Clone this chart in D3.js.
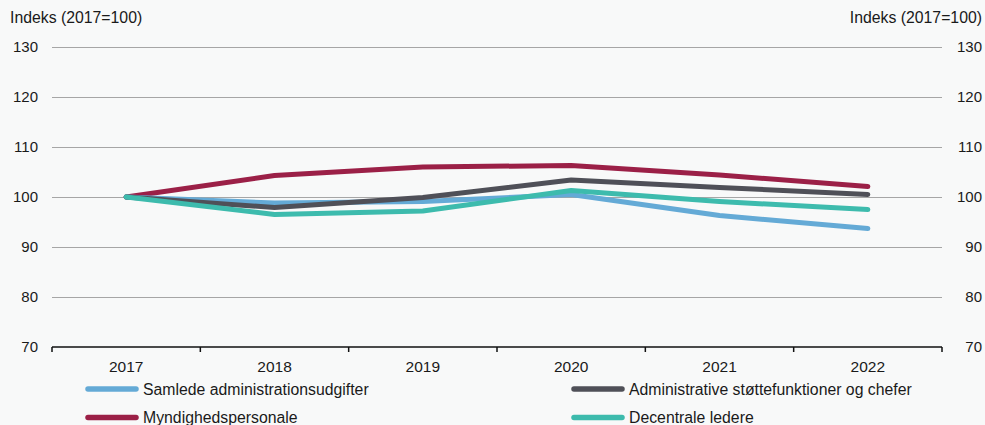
<!DOCTYPE html>
<html><head><meta charset="utf-8">
<script src="https://cdn.jsdelivr.net/npm/d3@7"></script>
<style>
html,body{margin:0;padding:0;background:#f8f9f9;}
svg{display:block;font-family:"Liberation Sans",Arial,sans-serif;}
</style></head><body>
<svg id="c" width="985" height="425"></svg>
<script>
const years = ["2017","2018","2019","2020","2021","2022"];
const samlede = [100, 98.8, 99.1, 100.5, 96.3, 93.7];
const administrative = [100, 97.9, 99.9, 103.4, 101.9, 100.5];
const myndighed = [100, 104.3, 106.0, 106.3, 104.4, 102.1];
const decentrale = [100, 96.5, 97.2, 101.3, 99.1, 97.5];
const yTicks = [70, 80, 90, 100, 110, 120, 130];
const seriesNames = ["Samlede administrationsudgifter","Administrative støttefunktioner og chefer","Myndighedspersonale","Decentrale ledere"];
const seriesColors = ["#64aad6","#4f5058","#9b2047","#3dbbad"];
const axisTitle = "Indeks (2017=100)";

const series = [
  {name: seriesNames[0], values: samlede, color: seriesColors[0]},
  {name: seriesNames[1], values: administrative, color: seriesColors[1]},
  {name: seriesNames[2], values: myndighed, color: seriesColors[2]},
  {name: seriesNames[3], values: decentrale, color: seriesColors[3]}
];
const drawOrder = [2, 0, 1, 3];

const svg = d3.select("#c");
const L = 52, R = 942, T = 47, B = 347;
const x = d3.scaleBand().domain(years).range([L, R]);
const y = d3.scaleLinear().domain([70, 130]).range([B, T]);

// gridlines
svg.append("g").selectAll("line").data(yTicks.filter(t => t > 70)).join("line")
  .attr("x1", L).attr("x2", R)
  .attr("y1", d => y(d)).attr("y2", d => y(d))
  .attr("stroke", "#a6a6a6").attr("stroke-width", 1).attr("shape-rendering","crispEdges");

// y labels
svg.append("g").selectAll("text").data(yTicks).join("text")
  .attr("x", 38).attr("y", d => y(d)).attr("dy", "0.36em")
  .attr("text-anchor", "end").attr("font-size", 15).attr("fill", "#1a1a1a").text(d => d);
svg.append("g").selectAll("text").data(yTicks).join("text")
  .attr("x", 982).attr("y", d => y(d)).attr("dy", "0.36em")
  .attr("text-anchor", "end").attr("font-size", 15).attr("fill", "#1a1a1a").text(d => d);

svg.append("text").attr("x", 10).attr("y", 23).attr("font-size", 15.8).attr("fill", "#1a1a1a").text(axisTitle);
svg.append("text").attr("x", 982).attr("y", 23).attr("text-anchor","end").attr("font-size", 15.8).attr("fill", "#1a1a1a").text(axisTitle);

// x axis
const xAxis = d3.axisBottom(x).tickSize(0).tickPadding(0);
const gx = svg.append("g").attr("transform", `translate(0,${B})`).call(xAxis);
gx.select(".domain").remove();
gx.selectAll("text").attr("font-size", 15.5).attr("fill", "#1a1a1a").attr("dy", null).attr("y", 25)
  .attr("font-family", "Liberation Sans, Arial, sans-serif");
svg.append("line").attr("x1", L).attr("x2", R).attr("y1", B).attr("y2", B)
  .attr("stroke", "#111").attr("stroke-width", 1.5);
const boundaries = years.map(d => x(d)).concat([R]);
svg.append("g").selectAll("line").data(boundaries).join("line")
  .attr("x1", d => d).attr("x2", d => d).attr("y1", B).attr("y2", B + 5)
  .attr("stroke", "#111").attr("stroke-width", 1.5);

// lines
const line = d3.line().x((d, i) => x(years[i]) + x.bandwidth() / 2).y(d => y(d));
svg.append("g").selectAll("path").data(drawOrder.map(i => series[i])).join("path")
  .attr("d", d => line(d.values)).attr("fill", "none")
  .attr("stroke", d => d.color).attr("stroke-width", 5)
  .attr("stroke-linecap", "round").attr("stroke-linejoin", "round");

// legend
const legPos = [[85, 389], [571, 389], [85, 417.5], [571, 417.5]];
const lg = svg.append("g").selectAll("g").data(series).join("g")
  .attr("transform", (d, i) => `translate(${legPos[i][0]},${legPos[i][1]})`);
lg.append("line").attr("x1", 3).attr("x2", 51).attr("y1", 0).attr("y2", 0)
  .attr("stroke", d => d.color).attr("stroke-width", 5.5).attr("stroke-linecap", "round");
lg.append("text").attr("x", 58).attr("y", 5.7).attr("font-size", 15.8)
  .attr("fill", "#1a1a1a").text(d => d.name);
</script>
</body></html>
